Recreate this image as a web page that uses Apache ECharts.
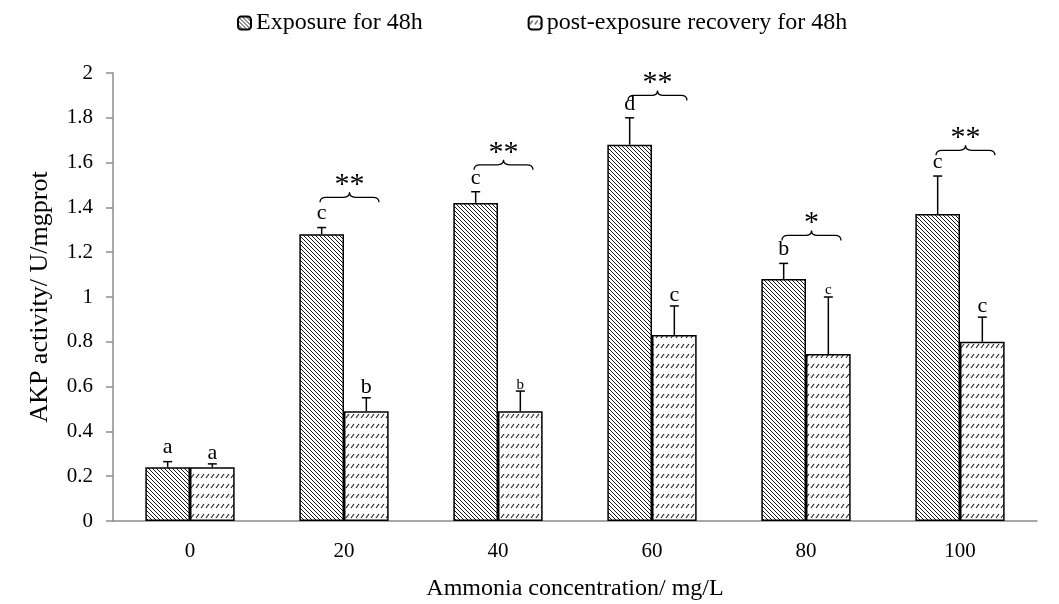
<!DOCTYPE html>
<html>
<head>
<meta charset="utf-8">
<script src="https://cdn.jsdelivr.net/npm/echarts@6/dist/echarts.min.js"></script>
<style>
  html, body { margin: 0; padding: 0; background: #fff; }
  #chart { width: 1059px; height: 604px; }
</style>
</head>
<body>
<div id="chart"></div>
<script>
// data
const categories = ['0', '20', '40', '60', '80', '100'];
const exposure = [0.24, 1.28, 1.42, 1.68, 1.08, 1.37];
const exposureErr = [0.025, 0.03, 0.05, 0.12, 0.07, 0.17];
const exposureLetters = ['a', 'c', 'c', 'd', 'b', 'c'];
const recovery = [0.24, 0.49, 0.49, 0.83, 0.745, 0.80];
const recoveryErr = [0.015, 0.06, 0.09, 0.13, 0.255, 0.11];
const recoveryLetters = ['a', 'b', 'b', 'c', 'c', 'c'];
// significance braces between the two bars of a group
const braceCats = [1, 2, 3, 4, 5];
const braceLevels = [1.445, 1.59, 1.90, 1.275, 1.655];
const braceStars = ['**', '**', '**', '*', '**'];
const yTicks = [0, 0.2, 0.4, 0.6, 0.8, 1, 1.2, 1.4, 1.6, 1.8, 2];

const FONT = 'Liberation Serif';
const BAR_RATIO = 0.29;
// letters drawn smaller in the original
const smallLetters = { '1-2': true, '1-4': true };

function makePattern(kind) {
  const c = document.createElement('canvas');
  const ctx = c.getContext('2d');
  if (kind === 'diag') {
    c.width = 8; c.height = 8;
    ctx.fillStyle = '#fff';
    ctx.fillRect(0, 0, 8, 8);
    ctx.strokeStyle = '#1a1a1a';
    ctx.lineWidth = 1;
    for (let k = -8; k <= 8; k += 4) {
      ctx.beginPath();
      ctx.moveTo(k, 0);
      ctx.lineTo(k + 8, 8);
      ctx.stroke();
    }
  } else {
    c.width = 5; c.height = 10;
    ctx.fillStyle = '#fff';
    ctx.fillRect(0, 0, 5, 10);
    ctx.strokeStyle = '#1a1a1a';
    ctx.lineWidth = 1.1;
    ctx.beginPath();
    ctx.moveTo(1, 8);
    ctx.lineTo(4, 4);
    ctx.stroke();
  }
  return { image: c, repeat: 'repeat' };
}

function errData(vals, errs) {
  return vals.map((v, i) => [i, v, errs[i]]);
}

function errRender(side) {
  return function (params, api) {
    const cat = api.value(0);
    const val = api.value(1);
    const err = api.value(2);
    const letter = side < 0 ? exposureLetters[cat] : recoveryLetters[cat];
    const band = api.size([1, 0])[0];
    const bw = band * BAR_RATIO;
    const x = api.coord([cat, 0])[0] + side * bw / 2;
    const y0 = api.coord([cat, val])[1];
    const y1 = api.coord([cat, val + err])[1];
    const small = smallLetters[(side < 0 ? 0 : 1) + '-' + cat];
    const lift = side < 0 ? -3 : 0;
    return {
      type: 'group',
      children: [
        { type: 'line', shape: { x1: x, y1: y0, x2: x, y2: y1 }, style: { stroke: '#000', lineWidth: 1.5 } },
        { type: 'line', shape: { x1: x - 4.5, y1: y1, x2: x + 4.5, y2: y1 }, style: { stroke: '#000', lineWidth: 1.5 } },
        {
          type: 'text',
          style: {
            text: letter, x: x, y: y1 + lift + (small ? 1 : 0),
            align: 'center', verticalAlign: 'bottom',
            font: (small ? 15 : 22) + 'px "' + FONT + '"', fill: '#000'
          }
        }
      ]
    };
  };
}

function braceRender(params, api) {
  const cat = api.value(0);
  const level = api.value(1);
  const stars = braceStars[params.dataIndex];
  const cx = api.coord([cat, level])[0];
  const y = api.coord([cat, level])[1];
  const x1 = cx - 24, x2 = cx + 35, xm = (x1 + x2) / 2;
  const h = 5;
  const path = 'M' + x1 + ' ' + (y + h) +
    ' Q' + x1 + ' ' + y + ' ' + (x1 + 6) + ' ' + y +
    ' L' + (xm - 6) + ' ' + y +
    ' Q' + xm + ' ' + y + ' ' + xm + ' ' + (y - h) +
    ' Q' + xm + ' ' + y + ' ' + (xm + 6) + ' ' + y +
    ' L' + (x2 - 6) + ' ' + y +
    ' Q' + x2 + ' ' + y + ' ' + x2 + ' ' + (y + h);
  return {
    type: 'group',
    children: [
      { type: 'path', shape: { pathData: path }, style: { stroke: '#000', fill: null, lineWidth: 1.3 } },
      {
        type: 'text',
        style: {
          text: stars, x: xm, y: y + 3,
          align: 'center', verticalAlign: 'bottom',
          font: '30px "' + FONT + '"', fill: '#000'
        }
      }
    ]
  };
}

const chart = echarts.init(document.getElementById('chart'));

chart.setOption({
  backgroundColor: '#fff',
  animation: false,
  textStyle: { fontFamily: FONT, color: '#000' },
  legend: {
    top: 6,
    left: 232,
    itemWidth: 13,
    itemHeight: 13,
    itemGap: 105,
    textStyle: { fontFamily: FONT, fontSize: 24, color: '#000' },
    data: ['Exposure for 48h', 'post-exposure recovery for 48h']
  },
  grid: { left: 113, right: 22, top: 73, bottom: 83, outerBoundsMode: 'none' },
  xAxis: {
    type: 'category',
    data: categories,
    name: 'Ammonia concentration/ mg/L',
    nameLocation: 'middle',
    nameGap: 56,
    nameTextStyle: { fontFamily: FONT, fontSize: 24, color: '#000' },
    axisLine: { lineStyle: { color: '#8c8c8c', width: 1.5 } },
    axisTick: { show: false },
    axisLabel: { fontFamily: FONT, fontSize: 21, color: '#000', margin: 20 }
  },
  yAxis: {
    type: 'value',
    min: 0,
    max: 2,
    interval: 0.2,
    name: 'AKP activity/ U/mgprot',
    nameLocation: 'middle',
    nameGap: 60,
    nameTextStyle: { fontFamily: FONT, fontSize: 26, color: '#000' },
    axisLine: { show: true, lineStyle: { color: '#8c8c8c', width: 1.5 } },
    axisTick: { show: true, length: 7, lineStyle: { color: '#8c8c8c', width: 1.5 } },
    splitLine: { show: false },
    axisLabel: {
      fontFamily: FONT, fontSize: 21, color: '#000', margin: 20,
      formatter: v => yTicks.includes(+v.toFixed(1)) ? String(+v.toFixed(1)) : ''
    }
  },
  series: [
    {
      name: 'Exposure for 48h',
      type: 'bar',
      data: exposure,
      barWidth: (BAR_RATIO * 100) + '%',
      barGap: '0%',
      itemStyle: { color: makePattern('diag'), borderColor: '#000', borderWidth: 1.5 }
    },
    {
      name: 'post-exposure recovery for 48h',
      type: 'bar',
      data: recovery,
      barWidth: (BAR_RATIO * 100) + '%',
      barGap: '0%',
      itemStyle: { color: makePattern('dash'), borderColor: '#000', borderWidth: 1.5 }
    },
    {
      type: 'custom',
      renderItem: errRender(-1),
      data: errData(exposure, exposureErr),
      z: 10, silent: true
    },
    {
      type: 'custom',
      renderItem: errRender(1),
      data: errData(recovery, recoveryErr),
      z: 10, silent: true
    },
    {
      type: 'custom',
      renderItem: braceRender,
      data: braceCats.map((c, i) => [c, braceLevels[i]]),
      z: 10, silent: true
    }
  ]
});
</script>
</body>
</html>
